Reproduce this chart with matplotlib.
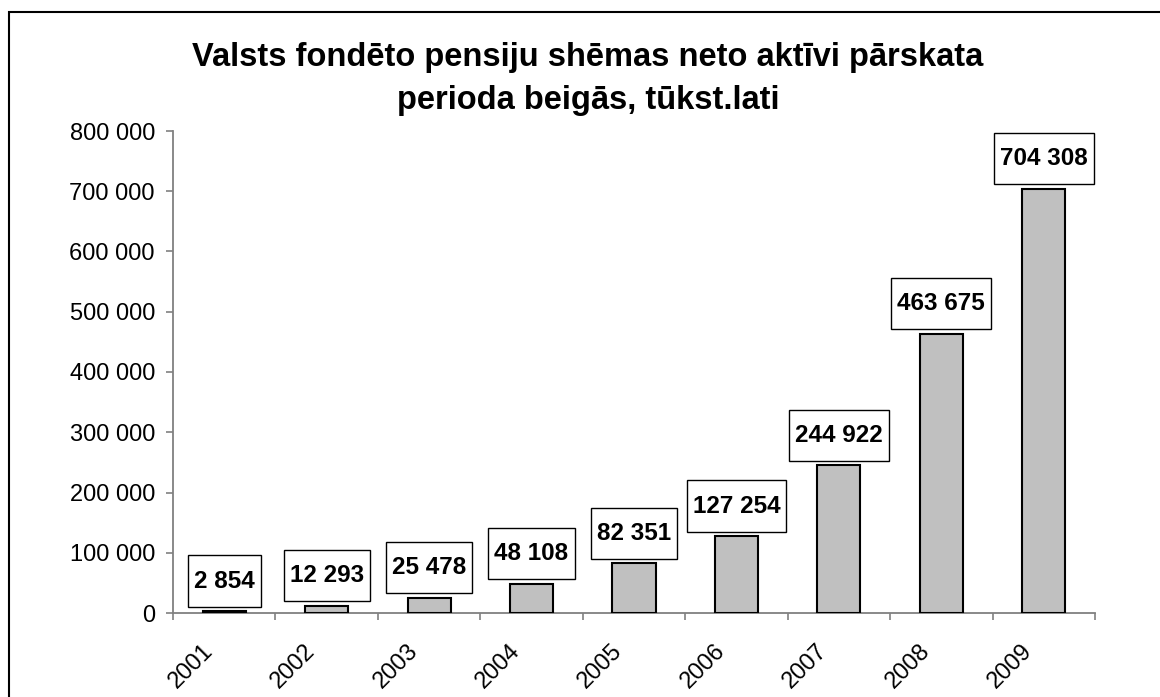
import matplotlib
matplotlib.use("Agg")
import matplotlib.pyplot as plt
import matplotlib.ticker as mticker
import matplotlib.transforms as mtransforms
from matplotlib.path import Path
from matplotlib.patches import Rectangle
import numpy as np

years = ["2001", "2002", "2003", "2004", "2005", "2006", "2007", "2008", "2009"]
values = [2854, 12293, 25478, 48108, 82351, 127254, 244922, 463675, 704308]
title = "Valsts fondēto pensiju shēmas neto aktīvi pārskata\nperioda beigās, tūkst.lati"

plt.rcParams['font.family'] = ['Liberation Sans', 'DejaVu Sans']

fig = plt.figure(figsize=(11.6, 6.97), dpi=100)
ax = fig.add_axes([173/1160, 1 - 613/697, 922/1160, 482/697])

x = np.arange(len(years))
ax.bar(x, values, width=0.42, color="#C0C0C0", edgecolor="black", linewidth=1.5, zorder=3)

ax.set_xlim(-0.5, len(years) - 0.5)
ax.set_ylim(0, 800000)
ax.yaxis.set_major_locator(mticker.MultipleLocator(100000))
fmt = lambda v, p=None: f"{v:,.0f}".replace(",", " ")
ax.yaxis.set_major_formatter(mticker.FuncFormatter(fmt))

for s in ["top", "right"]:
    ax.spines[s].set_visible(False)
for s in ["left", "bottom"]:
    ax.spines[s].set_color("#808080")
    ax.spines[s].set_linewidth(1.3)

ax.tick_params(axis="y", direction="out", length=5, width=1.2, color="#808080",
               labelsize=17, pad=8)
ax.set_xticks(x)
ax.set_xticklabels(years, rotation=45, ha="right", va="top", fontsize=17)
ax.tick_params(axis="x", which="major", length=0, pad=19)
ax.set_xticks(np.arange(len(years) + 1) - 0.5, minor=True)
ax.tick_params(axis="x", which="minor", direction="out", length=5, width=1.2, color="#808080")
off = mtransforms.ScaledTranslation(-7/100, 0, fig.dpi_scale_trans)
for lab in ax.get_xticklabels():
    lab.set_transform(lab.get_transform() + off)


def label_box(x0, y0, width, height, mutation_size):
    px = 0.25 * mutation_size
    py = 0.58 * mutation_size
    x0 -= px; y0 -= py
    x1 = x0 + width + 2 * px
    y1 = y0 + height + 2 * py
    return Path([(x0, y0), (x1, y0), (x1, y1), (x0, y1), (x0, y0)],
                [Path.MOVETO, Path.LINETO, Path.LINETO, Path.LINETO, Path.CLOSEPOLY])


for xi, v in zip(x, values):
    ax.annotate(fmt(v), xy=(xi, v), xytext=(0, 13.5), textcoords="offset points",
                ha="center", va="bottom", fontsize=17.5, fontweight="bold",
                bbox=dict(boxstyle=label_box, facecolor="white", edgecolor="black", linewidth=1.0),
                zorder=4)

fig.text(588/1160, 1 - 42/697, title, ha="center", va="top", fontsize=23.5,
         fontweight="bold", linespacing=1.5)

fig.patches.append(Rectangle((9/1160, -0.2), 1.2, 1.2 - 12/697, transform=fig.transFigure,
                             fill=False, edgecolor="black", linewidth=1.5))

fig.savefig("out.png", dpi=100)
